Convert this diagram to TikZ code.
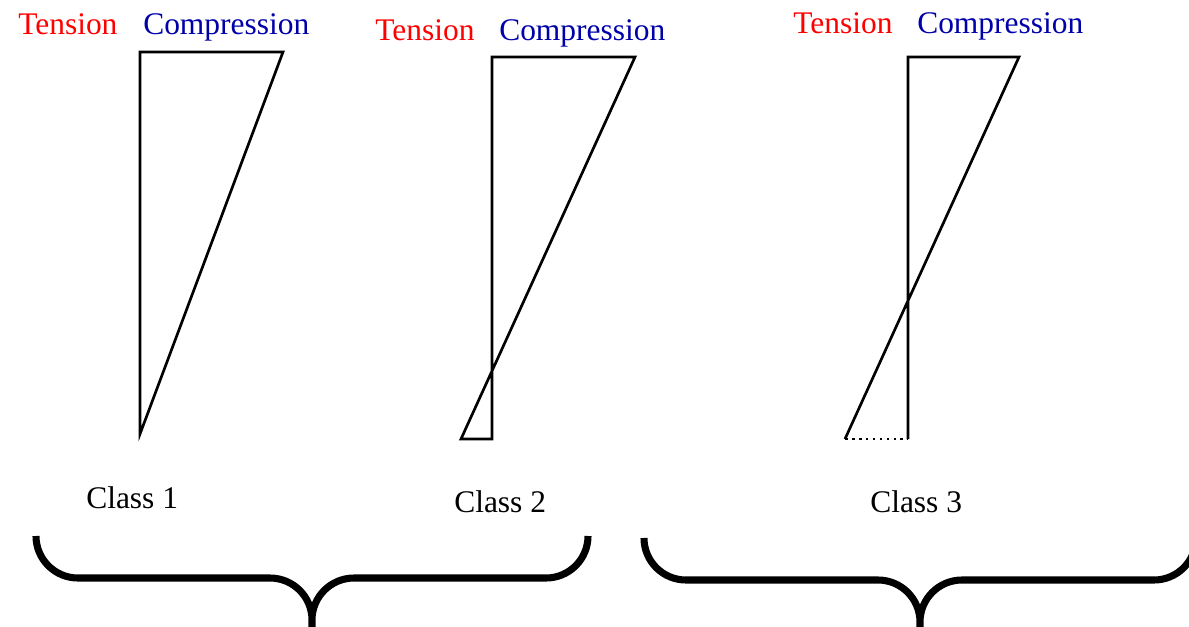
\documentclass[tikz,border=0pt]{standalone}
\usepackage{fontspec}
\setmainfont{Liberation Serif}
\usepackage{xcolor}
\definecolor{tensred}{RGB}{255,0,0}
\definecolor{compblue}{RGB}{0,0,170}
\tikzset{
  lbl/.style={anchor=base west,inner sep=0pt,font=\fontsize{23.6}{28}\selectfont},
  tens/.style={lbl,text=tensred},
  comp/.style={lbl,text=compblue},
  stress/.style={line width=2pt,line join=miter},
  curly/.style={line width=5.3pt},
}

\begin{document}
\begin{tikzpicture}[x=0.75pt,y=0.75pt,yscale=-1,xscale=1]
        \useasboundingbox (0,0) rectangle (1189,626);
        \clip (0,0) rectangle (1189,626);
        %Shape: Class 1 diagram
        \draw [stress] (140,434) -- (140,52) -- (283,52) -- cycle ;
        %Shape: Class 2 diagram
        \draw [stress] (492,439) -- (492,57) -- (635,57) -- (461,439) -- cycle ;
        %Shape: Class 3 diagram
        \draw [stress] (908,439) -- (908,57) -- (1019,57) -- (845,439) ;
        %Straight Lines: dotted base
        \draw [line width=2.2pt,dash pattern=on 2pt off 3.2pt] (845,439) -- (908,439) ;

        % Text Node
        \node [tens] (ten1) at (18,34) {Tension};
        % Text Node
        \node [comp] (com1) at (143,34) {Compression};
        % Text Node
        \node [tens] (ten2) at (375,40) {Tension};
        % Text Node
        \node [comp] (com2) at (499,40) {Compression};
        % Text Node
        \node [tens] (ten3) at (793,33) {Tension};
        % Text Node
        \node [comp] (com3) at (917,33) {Compression};
        % Text Node
        \node [lbl] (cls1) at (86,508) {Class 1};
        % Text Node
        \node [lbl] (cls2) at (454,512) {Class 2};
        % Text Node
        \node [lbl] (cls3) at (870,512) {Class 3};

        %Curve Lines: left brace
        \draw [curly] (36,536) arc (180:90:42) -- (270,578) arc (270:360:42) -- (312,640)
              (312,620) arc (180:270:42) -- (546,578) arc (90:0:42) -- (588,536) ;
        %Curve Lines: right brace
        \draw [curly] (644,538) arc (180:90:42) -- (878,580) arc (270:360:42) -- (920,640)
              (920,622) arc (180:270:42) -- (1154,580) arc (90:0:42) -- (1196,536) ;
\end{tikzpicture}
\end{document}
